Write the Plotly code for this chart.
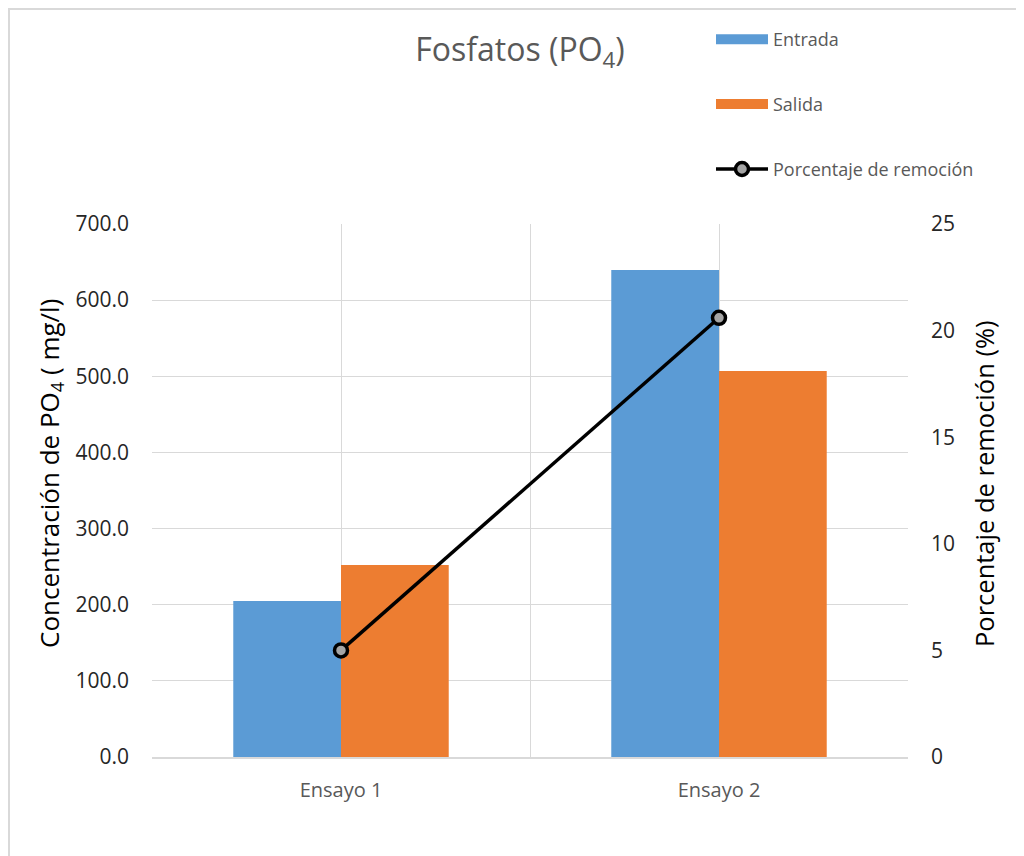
import plotly.graph_objects as go

categories = ["Ensayo 1", "Ensayo 2"]
entrada = [205.0, 639.5]
salida = [252.0, 507.0]
remocion = [5.0, 20.6]
left_ticks = [0, 100, 200, 300, 400, 500, 600, 700]
right_ticks = [0, 5, 10, 15, 20, 25]

# the page adds an 8px body margin, so the figure is drawn 8px in
OFF = 8
W, H = 1024 - OFF, 856 - OFF
ML, MT = 152 - OFF, 224 - OFF
PW, PH = 756, 533
MR, MB = W - ML - PW, H - MT - PH

FONT = "Open Sans"
GRID = "#D9D9D9"
BLUE, ORANGE = "#5B9BD5", "#ED7D31"


def px_x(x):
    return (x - OFF - ML) / PW


def px_y(y):
    return (MT + PH - (y - OFF)) / PH


xpos = list(range(len(categories)))

fig = go.Figure()
fig.add_trace(go.Bar(x=xpos, y=entrada, name="Entrada", marker=dict(color=BLUE, line=dict(width=0)),
                     offsetgroup="a", showlegend=False))
fig.add_trace(go.Bar(x=xpos, y=salida, name="Salida", marker=dict(color=ORANGE, line=dict(width=0)),
                     offsetgroup="b", showlegend=False))
fig.add_trace(go.Scatter(x=xpos, y=remocion, name="Porcentaje de remoción", yaxis="y2",
                         mode="lines+markers", showlegend=False,
                         line=dict(color="black", width=3.5),
                         marker=dict(symbol="circle", size=13, color="#A5A5A5",
                                     line=dict(color="black", width=3.5))))

# legend-only entries (wide bar swatches like the reference)
fig.add_trace(go.Scatter(x=[None], y=[None], name="Entrada", mode="lines",
                         line=dict(color=BLUE, width=14), legendgroup="a"))
fig.add_trace(go.Scatter(x=[None], y=[None], name="Salida", mode="lines",
                         line=dict(color=ORANGE, width=14), legendgroup="b"))
fig.add_trace(go.Scatter(x=[None], y=[None], name="Porcentaje de remoción", mode="lines+markers",
                         line=dict(color="black", width=3.5), legendgroup="c",
                         marker=dict(symbol="circle", size=13, color="#A5A5A5",
                                     line=dict(color="black", width=3.5))))
# activates the boundary/center vertical gridlines
fig.add_trace(go.Scatter(x=[None], y=[None], xaxis="x2", showlegend=False, hoverinfo="skip"))

# frame around the chart area (decoration)
fig.add_shape(type="rect", xref="paper", yref="paper",
              x0=px_x(9), x1=px_x(1040), y0=px_y(880), y1=px_y(9),
              line=dict(color="#D9D9D9", width=2), layer="below")

fig.add_annotation(text="Concentración de PO<sub>4</sub> ( mg/l)", textangle=-90,
                   xref="paper", yref="paper", x=px_x(50), y=px_y(474),
                   xanchor="center", yanchor="middle", showarrow=False,
                   font=dict(family=FONT, size=26, color="black"))
fig.add_annotation(text="Porcentaje de remoción (%)", textangle=-90,
                   xref="paper", yref="paper", x=px_x(984), y=px_y(484),
                   xanchor="center", yanchor="middle", showarrow=False,
                   font=dict(family=FONT, size=25.5, color="black"))

fig.update_layout(
    width=W, height=H,
    margin=dict(l=ML, r=MR, t=MT, b=MB, autoexpand=False),
    paper_bgcolor="white", plot_bgcolor="white",
    font=dict(family=FONT, color="#595959"),
    title=dict(text="Fosfatos (PO<sub>4</sub>)", x=(520 - OFF) / W, xanchor="center",
               y=1 - (50 - OFF) / H, yanchor="middle",
               font=dict(family=FONT, size=32, color="#595959")),
    barmode="group", bargap=0.43, bargroupgap=0,
    xaxis=dict(range=[-0.5, 1.5], tickvals=xpos, ticktext=categories,
               showgrid=True, gridcolor=GRID, gridwidth=1,
               showline=True, linecolor="#D9D9D9", linewidth=2,
               ticks="", ticklabelstandoff=14,
               tickfont=dict(family=FONT, size=20, color="#595959"),
               zeroline=False),
    xaxis2=dict(range=[-0.5, 1.5], overlaying="x", tickvals=[-0.5, 0.5, 1.5],
                showticklabels=False, showgrid=True, gridcolor=GRID, gridwidth=1,
                showline=False, ticks="", zeroline=False),
    yaxis=dict(range=[0, 700], tickvals=left_ticks, tickformat=".1f",
               showgrid=True, gridcolor=GRID, gridwidth=1, zeroline=False,
               ticks="", ticklabelstandoff=22,
               tickfont=dict(family=FONT, size=21, color="#262626")),
    yaxis2=dict(range=[0, 25], tickvals=right_ticks, overlaying="y", side="right",
                showgrid=False, zeroline=False, ticks="", ticklabelstandoff=22,
                tickfont=dict(family=FONT, size=21, color="#262626")),
    legend=dict(x=px_x(711), xanchor="left", y=px_y(21), yanchor="top",
                orientation="v", tracegroupgap=38.5, bgcolor="rgba(0,0,0,0)",
                font=dict(family=FONT, size=18, color="#595959"), itemwidth=52),
    showlegend=True,
)

fig.write_html("out.html")
